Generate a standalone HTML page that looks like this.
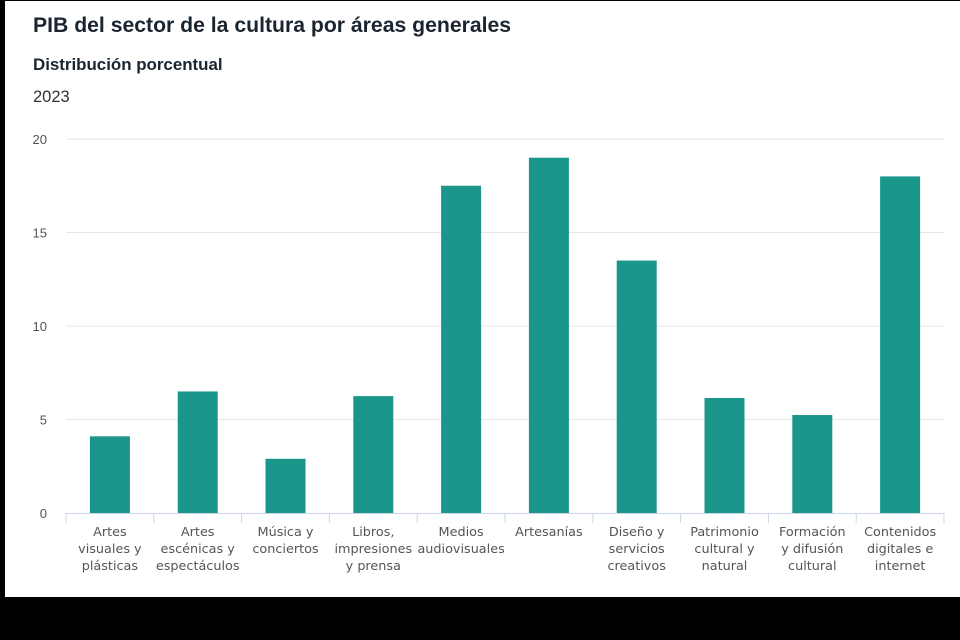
<!DOCTYPE html>
<html><head><meta charset="utf-8"><style>
body{margin:0;width:960px;height:640px;background:#000;overflow:hidden;font-family:"Liberation Sans",sans-serif}
#card{position:absolute;left:5px;top:1px;width:955px;height:596px;background:#fff}
.t{position:absolute;left:28px;color:#1a1a1a}
</style></head><body>
<div id="card">
<div class="t" style="top:13px;font-size:21.2px;font-weight:bold;color:#1b2530">PIB del sector de la cultura por áreas generales</div>
<div class="t" style="top:54px;font-size:16.9px;font-weight:bold;color:#1b2530">Distribución porcentual</div>
<div class="t" style="top:87px;font-size:16.5px;color:#333">2023</div>
</div>
<svg id="chart" width="960" height="640" style="position:absolute;left:0;top:0"></svg>
<script>
const categories=[["Artes","visuales y","plásticas"],["Artes","escénicas y","espectáculos"],["Música y","conciertos"],["Libros,","impresiones","y prensa"],["Medios","audiovisuales"],["Artesanías"],["Diseño y","servicios","creativos"],["Patrimonio","cultural y","natural"],["Formación","y difusión","cultural"],["Contenidos","digitales e","internet"]];
const values=[4.1,6.5,2.9,6.25,17.5,19.0,13.5,6.15,5.24,18.0];
const yTicks=[0,5,10,15,20];
const NS="http://www.w3.org/2000/svg",svg=document.getElementById('chart');
const x0=66,x1=944,y0=513,yTop=139,yMax=20;
const y=v=>y0-(y0-yTop)*v/yMax;
const bw=(x1-x0)/categories.length;
const xc=i=>x0+bw*(i+0.5);
function mk(t,a){const e=document.createElementNS(NS,t);for(const k in a)e.setAttribute(k,a[k]);svg.appendChild(e);return e;}
yTicks.forEach(v=>{
 if(v>0){const g=mk('line',{x1:x0,x2:x1,y1:y(v),y2:y(v),stroke:'#e6e6e6','stroke-width':1});
 
 }
 const t=mk('text',{x:47,y:y(v)+5,'text-anchor':'end','font-size':13,fill:'#555','font-family':'Liberation Sans, sans-serif'});t.textContent=v;
 
 
});
const ax=mk('line',{x1:x0,x2:x1,y1:y0+0.5,y2:y0+0.5,stroke:'#ccd6eb'});


for(let i=0;i<=categories.length;i++){const tk=mk('line',{x1:x0+bw*i,x2:x0+bw*i,y1:y0,y2:y0+10,stroke:'#ccd6eb'});
 
 }
values.forEach((v,i)=>{
 const r=mk('rect',{x:xc(i)-20,y:y(v),width:40,height:y0-y(v),fill:'#1a968b'});
 
 
 const t=mk('text',{x:xc(i),y:536,'text-anchor':'middle',fill:'#555','font-family':'DejaVu Sans, sans-serif','font-size':12.8});
 
 
 categories[i].forEach((l,j)=>{const s=document.createElementNS(NS,'tspan');s.setAttribute('x',xc(i));s.setAttribute('dy',j?17:0);s.textContent=l;t.appendChild(s);});
});
</script>
</body></html>
